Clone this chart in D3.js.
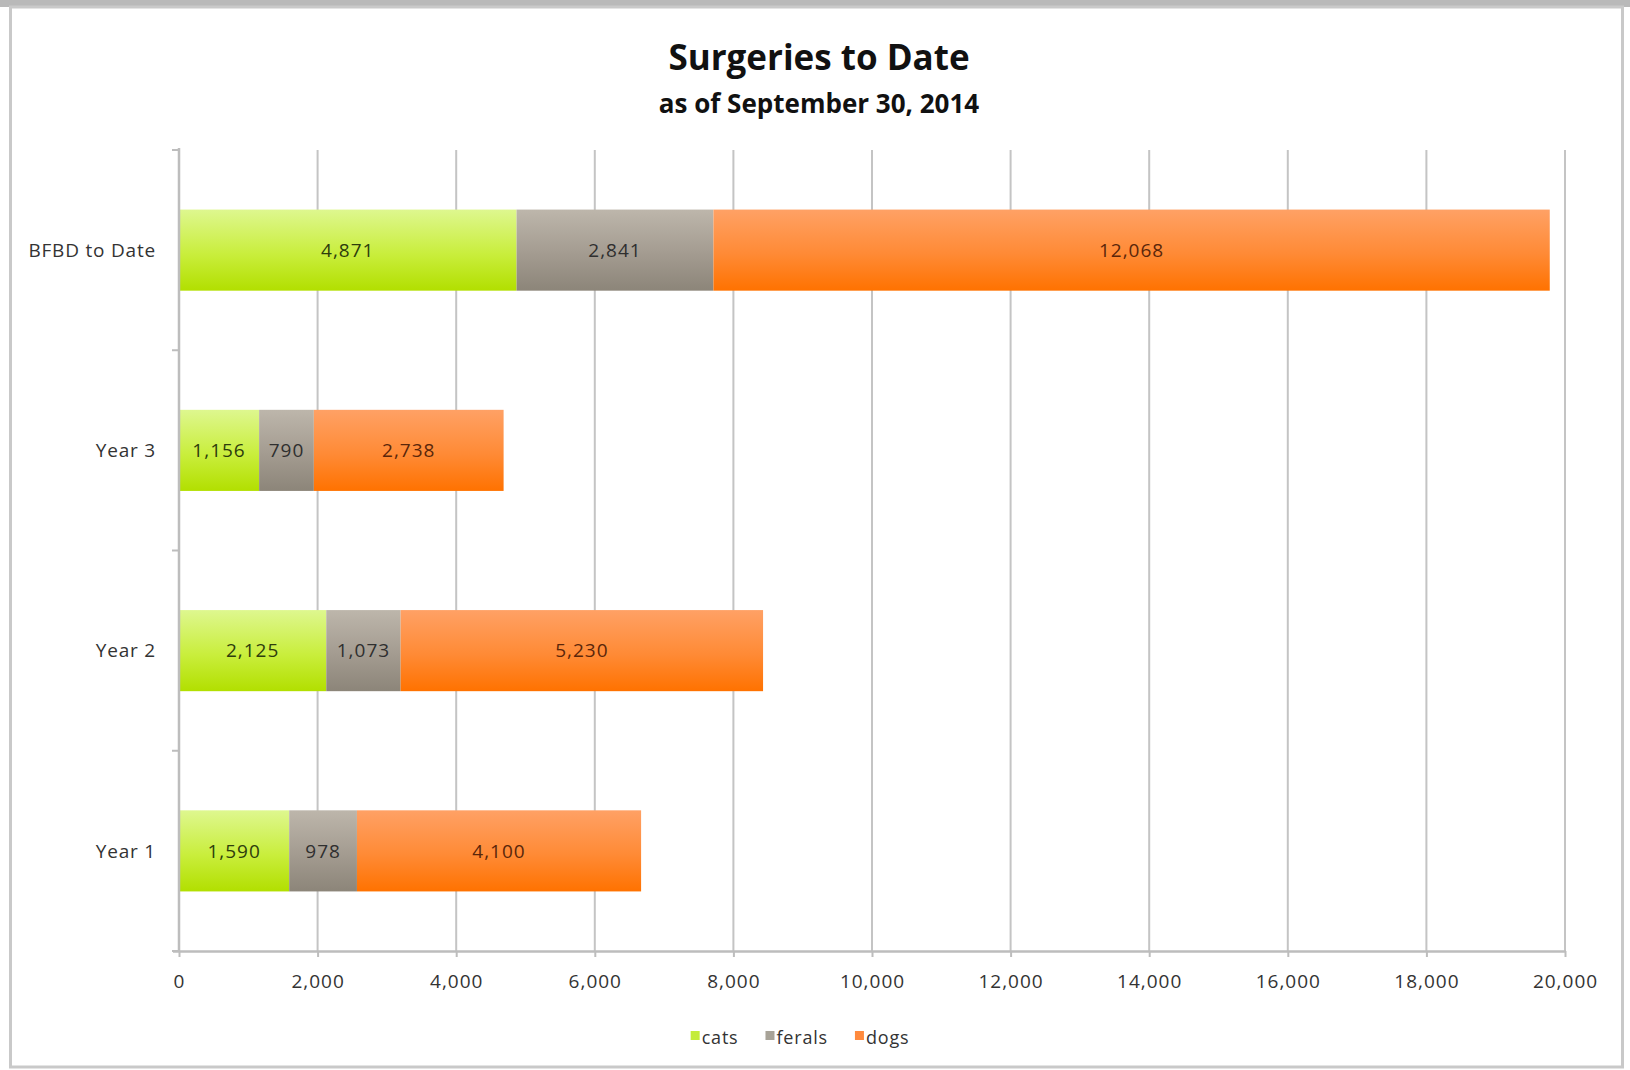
<!DOCTYPE html>
<html>
<head>
<meta charset="utf-8">
<script src="https://cdn.jsdelivr.net/npm/d3@7"></script>
<style>
  html, body { margin: 0; padding: 0; background: #fff; }
  svg { display: block; }
  text { font-family: "Open Sans", "DejaVu Sans", sans-serif; }
</style>
</head>
<body>
<svg id="chart" width="1630" height="1070"></svg>
<script>
// ---- data ----
const categories = ["BFBD to Date", "Year 3", "Year 2", "Year 1"];
const seriesNames = ["cats", "ferals", "dogs"];
const cats   = [4871, 1156, 2125, 1590];
const ferals = [2841, 790, 1073, 978];
const dogs   = [12068, 2738, 5230, 4100];
const xTicks = [0, 2000, 4000, 6000, 8000, 10000, 12000, 14000, 16000, 18000, 20000];
const titleText = "Surgeries to Date";
const subtitleText = "as of September 30, 2014";

// ---- layout ----
const W = 1630, H = 1070;
const plot = { left: 179, right: 1565, top: 150, bottom: 951 };

const svg = d3.select("#chart");

// frame
svg.append("rect").attr("x", 0).attr("y", 0).attr("width", W).attr("height", 7).attr("fill", "#b9b9b9");
svg.append("rect").attr("x", 10.5).attr("y", 7).attr("width", 1612).attr("height", 1060)
  .attr("fill", "#fff").attr("stroke", "#c9c9c9").attr("stroke-width", 3);

// gradients
const defs = svg.append("defs");
const gradStops = {
  cats:   ["#def78f", "#c9ee3c", "#b2df00"],
  ferals: ["#bdb6ab", "#a39b90", "#8c8579"],
  dogs:   ["#ffa165", "#ff8a35", "#ff7200"]
};
const labelColor = { cats: "#2e3d0c", ferals: "#2f2f2f", dogs: "#5a260a" };
seriesNames.forEach(s => {
  const g = defs.append("linearGradient").attr("id", "g-" + s)
    .attr("x1", 0).attr("y1", 0).attr("x2", 0).attr("y2", 1);
  g.append("stop").attr("offset", "0%").attr("stop-color", gradStops[s][0]);
  g.append("stop").attr("offset", "55%").attr("stop-color", gradStops[s][1]);
  g.append("stop").attr("offset", "100%").attr("stop-color", gradStops[s][2]);
});

// scales
const x = d3.scaleLinear().domain([0, 20000]).range([plot.left, plot.right]);
const y = d3.scaleBand().domain(categories).range([plot.top, plot.bottom]).padding(0);
const barFrac = 0.405;

// gridlines
svg.append("g").selectAll("line").data(xTicks.slice(1)).join("line")
  .attr("x1", d => x(d)).attr("x2", d => x(d))
  .attr("y1", plot.top).attr("y2", plot.bottom)
  .attr("stroke", "#c4c4c4").attr("stroke-width", 2);

// stacked data
const table = categories.map((c, i) => ({ category: c, cats: cats[i], ferals: ferals[i], dogs: dogs[i] }));
const stack = d3.stack().keys(seriesNames)(table);

const barsG = svg.append("g");
stack.forEach(layer => {
  const s = layer.key;
  barsG.append("g").selectAll("rect").data(layer).join("rect")
    .attr("x", d => x(d[0]))
    .attr("width", d => x(d[1]) - x(d[0]))
    .attr("y", d => y(d.data.category) + y.bandwidth() * (1 - barFrac) / 2)
    .attr("height", y.bandwidth() * barFrac)
    .attr("fill", "url(#g-" + s + ")");
});

// data labels
const fmt = d3.format(",");
stack.forEach(layer => {
  const s = layer.key;
  barsG.append("g").selectAll("text").data(layer).join("text")
    .attr("x", d => (x(d[0]) + x(d[1])) / 2)
    .attr("y", d => y(d.data.category) + y.bandwidth() / 2)
    .attr("dy", "0.35em")
    .attr("text-anchor", "middle")
    .attr("font-size", 19)
    .attr("letter-spacing", "1px")
    .attr("fill", labelColor[s])
    .text(d => fmt(d[1] - d[0]));
});

// x axis
const xAxis = d3.axisBottom(x).tickValues(xTicks).tickFormat(fmt).tickSize(6).tickPadding(18);
const xg = svg.append("g").attr("transform", `translate(0,${plot.bottom})`).call(xAxis);
xg.select(".domain").attr("stroke", "#bdbdbd").attr("stroke-width", 2.5)
  .attr("d", `M${plot.left - 6},0.5H${plot.right + 1}`);
xg.selectAll(".tick line").attr("stroke", "#bdbdbd").attr("stroke-width", 2);
xg.selectAll(".tick text").attr("font-size", 19).attr("fill", "#333")
  .attr("font-family", '"Open Sans", sans-serif').attr("letter-spacing", "1px");

// y axis with boundary ticks
const yg = svg.append("g");
yg.append("line").attr("x1", plot.left).attr("x2", plot.left)
  .attr("y1", plot.top - 2).attr("y2", plot.bottom)
  .attr("stroke", "#bdbdbd").attr("stroke-width", 2.5);
const bounds = categories.map(c => y(c)).concat([plot.bottom]);
yg.selectAll("line.tk").data(bounds).join("line").attr("class", "tk")
  .attr("x1", plot.left - 7).attr("x2", plot.left)
  .attr("y1", d => d).attr("y2", d => d)
  .attr("stroke", "#bdbdbd").attr("stroke-width", 2);
yg.selectAll("text").data(categories).join("text")
  .attr("x", 156)
  .attr("y", d => y(d) + y.bandwidth() / 2)
  .attr("dy", "0.35em")
  .attr("text-anchor", "end")
  .attr("font-size", 19)
  .attr("letter-spacing", "0.8px")
  .attr("fill", "#333")
  .text(d => d);

// titles
svg.append("text").attr("x", 819).attr("y", 70).attr("text-anchor", "middle")
  .attr("font-size", 35).attr("font-weight", "bold").attr("fill", "#111").text(titleText);
svg.append("text").attr("x", 819).attr("y", 113).attr("text-anchor", "middle")
  .attr("font-size", 26).attr("font-weight", "bold").attr("fill", "#111").text(subtitleText);

// legend
const legendColors = { cats: "#c4ec3a", ferals: "#a8a398", dogs: "#ff8a3d" };
const lg = svg.append("g");
let lx = 0;
const gap = 27;
seriesNames.forEach(s => {
  const it = lg.append("g").attr("transform", `translate(${lx},0)`);
  it.append("rect").attr("x", 0).attr("y", -7).attr("width", 9).attr("height", 9).attr("fill", legendColors[s]);
  const t = it.append("text").attr("x", 11).attr("y", 0).attr("dy", "0.35em")
    .attr("font-size", 18).attr("letter-spacing", "0.8px").attr("fill", "#333").text(s);
  lx += 11 + t.node().getComputedTextLength() + gap;
});
const legendW = lx - gap;
lg.attr("transform", `translate(${800 - legendW / 2},1038)`);
</script>
</body>
</html>
